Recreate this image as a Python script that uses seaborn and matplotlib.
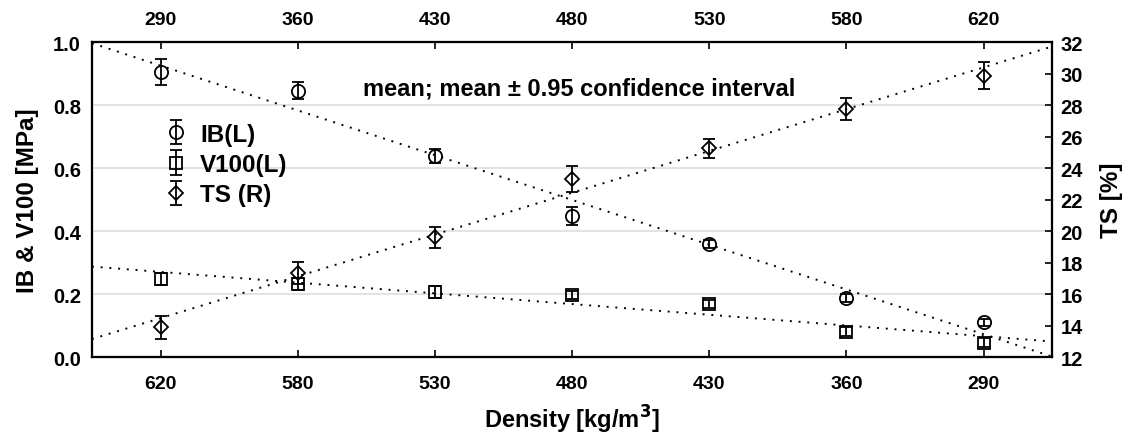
import numpy as np
import matplotlib
matplotlib.use("Agg")
import matplotlib.pyplot as plt
import seaborn as sns

# density categories (bottom axis) and reversed top axis
density_bottom = ["620", "580", "530", "480", "430", "360", "290"]
density_top = ["290", "360", "430", "480", "530", "580", "620"]

# means and 95% CI half-widths
ib_mean = [0.905, 0.845, 0.638, 0.447, 0.359, 0.187, 0.110]
ib_ci = [0.041, 0.027, 0.022, 0.028, 0.012, 0.012, 0.011]
v100_mean = [0.248, 0.232, 0.207, 0.197, 0.168, 0.080, 0.045]
v100_ci = [0.020, 0.020, 0.020, 0.014, 0.014, 0.014, 0.014]
ts_mean = [13.9, 17.35, 19.6, 23.3, 25.25, 27.75, 29.85]
ts_ci = [0.73, 0.70, 0.67, 0.80, 0.60, 0.70, 0.86]

sns.set_style("white")
plt.rcParams["font.family"] = ["Liberation Sans", "DejaVu Sans"]
plt.rcParams["font.weight"] = "bold"
plt.rcParams["text.color"] = "black"
plt.rcParams["axes.labelcolor"] = "black"
plt.rcParams["xtick.color"] = "black"
plt.rcParams["ytick.color"] = "black"

fig = plt.figure(figsize=(11.31, 4.39), dpi=100)
ax = fig.add_axes([0.0813, 0.1845, 0.849, 0.7175])
ax2 = ax.twinx()
ax_top = ax.twiny()

x = np.arange(len(density_bottom))
xlim = (-0.5, 6.5)
ax.set_xlim(xlim)
ax2.set_xlim(xlim)
ax_top.set_xlim(xlim)
ax.set_ylim(0, 1.0)
ax2.set_ylim(12, 32)

ax.set_yticks(np.arange(0, 1.01, 0.2))
ax.set_yticklabels([f"{v:.1f}" for v in np.arange(0, 1.01, 0.2)])
ax2.set_yticks(np.arange(12, 33, 2))
ax.set_xticks(x)
ax.set_xticklabels(density_bottom)
ax_top.set_xticks(x)
ax_top.set_xticklabels(density_top)

for yv in [0.2, 0.4, 0.6, 0.8]:
    ax.axhline(yv, color="#dedede", lw=1.2, zorder=0)

# linear trend lines (dotted)
dot = (0, (1, 3.5))
sns.regplot(x=x, y=ib_mean, ax=ax, scatter=False, ci=None, truncate=False,
            line_kws=dict(color="black", lw=1.4, ls=dot))
sns.regplot(x=x, y=v100_mean, ax=ax, scatter=False, ci=None, truncate=False,
            line_kws=dict(color="black", lw=1.4, ls=dot))
sns.regplot(x=x, y=ts_mean, ax=ax2, scatter=False, ci=None, truncate=False,
            line_kws=dict(color="black", lw=1.4, ls=dot))
ax.set_xlim(xlim)
ax2.set_xlim(xlim)

common = dict(ls="none", mfc="none", mec="black", ecolor="black",
              elinewidth=1.3, capsize=4, capthick=1.3, mew=1.3, color="black")
h1 = ax.errorbar(x, ib_mean, yerr=ib_ci, marker="o", ms=9.5, label="IB(L)", **common)
h2 = ax.errorbar(x, v100_mean, yerr=v100_ci, marker="s", ms=8, label="V100(L)", **common)
h3 = ax2.errorbar(x, ts_mean, yerr=ts_ci, marker="D", ms=7.5, label="TS (R)", **common)

leg = ax.legend(handles=[h1, h2, h3], loc="upper left", bbox_to_anchor=(0.058, 0.79),
                frameon=False, prop=dict(size=17.5, weight="bold"), handlelength=1.1,
                handletextpad=0.45, labelspacing=0.3, borderpad=0.1)

ax.text(0.507, 0.855, "mean; mean ± 0.95 confidence interval", transform=ax.transAxes,
        ha="center", va="center", fontsize=17, fontweight="bold")

ax.set_xlabel("Density [kg/m$^\\mathbf{3}$]", fontsize=17, fontweight="bold", labelpad=8)
ax.set_ylabel("IB & V100 [MPa]", fontsize=17.5, fontweight="bold", labelpad=10)
ax2.set_ylabel("TS [%]", fontsize=17.5, fontweight="bold", labelpad=12)

for a in (ax, ax2, ax_top):
    for s in a.spines.values():
        s.set_linewidth(1.5)
        s.set_color("black")
    a.tick_params(labelsize=14, direction="in", length=5, width=1.2, color="black",
                  labelcolor="black")
ax.tick_params(axis="y", length=0, pad=8, labelsize=14.5)
ax.tick_params(axis="x", pad=13)
ax2.tick_params(axis="y", pad=6, labelsize=14.5)
ax_top.tick_params(axis="x", pad=10)
for a in (ax, ax2, ax_top):
    for lab in a.get_xticklabels() + a.get_yticklabels():
        lab.set_fontweight("bold")

fig.savefig("out.png", dpi=100)
